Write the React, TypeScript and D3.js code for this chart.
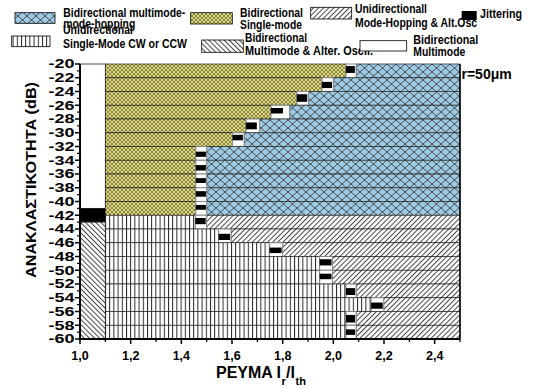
import React from "react";
import * as d3 from "d3";

// ---- data ----
const upperTop = [-20, -22, -24, -26, -28, -30, -32, -34, -36, -38, -40];
const yellowEnd = [2.05, 1.955, 1.856, 1.754, 1.655, 1.602, 1.457, 1.457, 1.457, 1.457, 1.457];
const upperBoxEnd = [2.09, 2.0, 1.902, 1.827, 1.709, 1.648, 1.5, 1.5, 1.5, 1.5, 1.5];
const upperBlackEnd = [2.085, 1.995, 1.897, 1.801, 1.698, 1.643, 1.497, 1.497, 1.497, 1.497, 1.497];
const upperBlackTop = [-20.3, -22.6, -24.4, -26.4, -28.5, -30.3, -32.75, -34.7, -36.6, -38.5, -40.5];
const upperBlackBottom = [-21.3, -23.5, -25.5, -27.2, -29.5, -31.1, -33.5, -35.5, -37.3, -39.3, -41.2];

const lowerTop = [-42, -44, -46, -48, -50, -52, -54, -56, -58];
const lineEnd = [1.455, 1.547, 1.748, 1.946, 1.946, 2.05, 2.149, 2.05, 2.05];
const lowerBoxEnd = [1.5, 1.596, 1.8, 1.997, 1.997, 2.09, 2.199, 2.09, 2.09];
const lowerBlackTop = [-42.4, -44.7, -46.7, -48.4, -50.5, -52.6, -54.7, -56.5, -58.6];
const lowerBlackBottom = [-43.3, -45.6, -47.5, -49.3, -51.3, -53.6, -55.6, -57.6, -59.4];

const rowHeight = 2;
const currentMin = 1.0;
const currentMax = 2.5;
const leftColEnd = 1.1;
const leftWhite = [-20, -41];
const leftJitter = [-41, -43];
const leftOsc = [-43, -60];

const yTickValues = [-20, -22, -24, -26, -28, -30, -32, -34, -36, -38, -40, -42, -44, -46, -48, -50, -52, -54, -56, -58, -60];
const yTickLabels = ["-20", "-22", "-24", "-26", "-28", "-30", "-32", "-34", "-36", "-38", "-40", "-42", "-44", "-46", "-48", "-50", "-52", "-54", "-56", "-58", "-60"];
const xTickValues = [1.0, 1.2, 1.4, 1.6, 1.8, 2.0, 2.2, 2.4];
const xTickLabels = ["1,0", "1,2", "1,4", "1,6", "1,8", "2,0", "2,2", "2,4"];
const xMinorValues = [1.1, 1.3, 1.5, 1.7, 1.9, 2.1, 2.3, 2.5];
const yMinorValues = [-21, -23, -25, -27, -29, -31, -33, -35, -37, -39, -41, -43, -45, -47, -49, -51, -53, -55, -57, -59];

const FONT = "'Liberation Sans', Arial, sans-serif";

export default function App() {
  const x = d3.scaleLinear().domain([currentMin, currentMax]).range([80, 460]);
  const y = d3.scaleLinear().domain([-20, -60]).range([64, 339]);

  const seg = (x0: number, x1: number, t: number, b: number, fill: string, key: string, stroke = "#222", sw = 0.7) => (
    <rect key={key} x={x(x0)} y={y(t)} width={x(x1) - x(x0)} height={y(b) - y(t)} fill={fill} stroke={stroke} strokeWidth={sw} />
  );

  const legendText = (s: string, lx: number, ly: number, len: number, key: string) => (
    <text key={key} x={lx} y={ly} fontSize={12} fontWeight="bold" fontFamily={FONT} textLength={len} lengthAdjust="spacingAndGlyphs">{s}</text>
  );

  return (
    <svg width={533} height={389} style={{ position: "absolute", left: 0, top: 0, background: "#fff" }}>
      <defs>
        <pattern id="blue" width={9} height={8} patternUnits="userSpaceOnUse">
          <rect width={9} height={8} fill="#9ecae3" />
          <path d="M0,0 L9,8 M9,0 L0,8" stroke="#1a1a1a" strokeWidth={0.7} />
        </pattern>
        <pattern id="yellow" width={4} height={4} patternUnits="userSpaceOnUse">
          <rect width={4} height={4} fill="#e0da74" />
          <path d="M0,0 L4,4 M4,0 L0,4" stroke="#333" strokeWidth={0.5} />
        </pattern>
        <pattern id="fwd" width={3.6} height={10} patternUnits="userSpaceOnUse" patternTransform="rotate(45)">
          <rect width={3.6} height={10} fill="#fff" />
          <line x1={0.5} y1={0} x2={0.5} y2={10} stroke="#111" strokeWidth={0.8} />
        </pattern>
        <pattern id="back" width={3.6} height={10} patternUnits="userSpaceOnUse" patternTransform="rotate(-45)">
          <rect width={3.6} height={10} fill="#fff" />
          <line x1={0.5} y1={0} x2={0.5} y2={10} stroke="#111" strokeWidth={0.8} />
        </pattern>
        <pattern id="vert" width={4.2} height={10} patternUnits="userSpaceOnUse">
          <rect width={4.2} height={10} fill="#fff" />
          <line x1={0.5} y1={0} x2={0.5} y2={10} stroke="#111" strokeWidth={0.9} />
        </pattern>
      </defs>

      {/* left column */}
      {seg(currentMin, leftColEnd, leftWhite[0], leftWhite[1], "#fff", "lw", "#222", 0.8)}
      {seg(currentMin, leftColEnd, leftJitter[0], leftJitter[1], "#000", "lj")}
      {seg(currentMin, leftColEnd, leftOsc[0], leftOsc[1], "url(#back)", "lo", "#222", 0.8)}

      {/* upper rows */}
      {upperTop.map((t, i) => (
        <g key={"u" + i}>
          {seg(leftColEnd, yellowEnd[i], t, t - rowHeight, "url(#yellow)", "y")}
          {seg(upperBoxEnd[i], currentMax, t, t - rowHeight, "url(#blue)", "b", "#333", 0.8)}
          {seg(yellowEnd[i], upperBoxEnd[i], t, t - rowHeight, "#fff", "w", "#888", 1)}
          {seg(yellowEnd[i], upperBlackEnd[i], upperBlackTop[i], upperBlackBottom[i], "#000", "k", "none", 0)}
        </g>
      ))}

      {/* lower rows */}
      {lowerTop.map((t, i) => (
        <g key={"l" + i}>
          {seg(leftColEnd, lineEnd[i], t, t - rowHeight, "url(#vert)", "v")}
          {seg(lowerBoxEnd[i], currentMax, t, t - rowHeight, "url(#fwd)", "f")}
          {seg(lineEnd[i], lowerBoxEnd[i], t, t - rowHeight, "#fff", "w", "#888", 1)}
          {seg(lineEnd[i], lowerBoxEnd[i] - 0.004, lowerBlackTop[i], lowerBlackBottom[i], "#000", "k", "none", 0)}
        </g>
      ))}

      {/* right border */}
      <line x1={x(currentMax)} y1={y(-20)} x2={x(currentMax)} y2={y(-60)} stroke="#000" strokeWidth={1.5} />

      {/* axes */}
      <line x1={x(currentMin)} y1={y(-20)} x2={x(currentMin)} y2={y(-60) + 1} stroke="#000" strokeWidth={2} />
      <line x1={x(currentMin) - 1} y1={y(-60)} x2={x(currentMax)} y2={y(-60)} stroke="#000" strokeWidth={2} />
      {yTickValues.map((v, i) => (
        <g key={"yt" + i}>
          <line x1={x(currentMin) - 5} x2={x(currentMin)} y1={y(v)} y2={y(v)} stroke="#000" strokeWidth={1.5} />
          <text x={74.5} y={y(v) + 4.3} textAnchor="end" fontSize={12} fontWeight="bold" fontFamily={FONT} textLength={26} lengthAdjust="spacingAndGlyphs">{yTickLabels[i]}</text>
        </g>
      ))}
      {yMinorValues.map((v, i) => (
        <line key={"ym" + i} x1={x(currentMin) - 3} x2={x(currentMin)} y1={y(v)} y2={y(v)} stroke="#000" strokeWidth={1.2} />
      ))}
      {xTickValues.map((v, i) => (
        <g key={"xt" + i}>
          <line x1={x(v)} x2={x(v)} y1={y(-60)} y2={y(-60) + 5} stroke="#000" strokeWidth={1.5} />
          <text x={x(v)} y={360} textAnchor="middle" fontSize={12.5} fontWeight="bold" fontFamily={FONT}>{xTickLabels[i]}</text>
        </g>
      ))}
      {xMinorValues.map((v, i) => (
        <line key={"xm" + i} x1={x(v)} x2={x(v)} y1={y(-60)} y2={y(-60) + 3} stroke="#000" strokeWidth={1.2} />
      ))}

      {/* axis titles */}
      <text transform="translate(36,180) rotate(-90)" textAnchor="middle" fontSize={15} fontWeight="bold" fontFamily={FONT} textLength={196} lengthAdjust="spacingAndGlyphs">ΑΝΑΚΛΑΣΤΙΚΟΤΗΤΑ (dB)</text>
      <text x={216} y={378} fontSize={16} fontWeight="bold" fontFamily={FONT}>PEYMA</text>
      <text x={276.5} y={378} fontSize={16} fontWeight="bold" fontFamily={FONT}>I</text>
      <text x={281.5} y={385} fontSize={11} fontWeight="bold" fontFamily={FONT}>r</text>
      <text x={286} y={378} fontSize={16} fontWeight="bold" fontFamily={FONT}>/I</text>
      <text x={295.5} y={385} fontSize={11} fontWeight="bold" fontFamily={FONT}>th</text>
      <text x={461.5} y={79} fontSize={14} fontWeight="bold" fontFamily={FONT}>r=50μm</text>

      {/* legend */}
      <rect x={15} y={12.7} width={40} height={10.6} fill="url(#blue)" stroke="#000" strokeWidth={0.8} />
      {legendText("Bidirectional multimode-", 63.3, 17.3, 122, "t1")}
      {legendText("mode-hopping", 63.3, 28, 72, "t2")}
      <rect x={190.7} y={12.7} width={41.6} height={11.3} fill="url(#yellow)" stroke="#000" strokeWidth={0.8} />
      {legendText("Bidirectional", 240, 16.7, 63, "t3")}
      {legendText("Single-mode", 240, 29, 62, "t4")}
      <rect x={310.7} y={7.3} width={41} height={11.7} fill="url(#fwd)" stroke="#000" strokeWidth={0.8} />
      {legendText("Unidirectionall", 355, 13.3, 72, "t5")}
      {legendText("Mode-Hopping & Alt.Osc", 355, 26.7, 122, "t6")}
      <rect x={461.7} y={11} width={15} height={9} fill="#000" />
      {legendText("Jittering", 480, 18.3, 42, "t7")}

      <rect x={11.7} y={36} width={38.3} height={10.7} fill="url(#vert)" stroke="#000" strokeWidth={0.8} />
      {legendText("Unidirectional", 63, 34.3, 70, "t8")}
      {legendText("Single-Mode CW or CCW", 63, 47.7, 124, "t9")}
      <rect x={201.7} y={40} width={41.6} height={12.3} fill="url(#back)" stroke="#000" strokeWidth={0.8} />
      {legendText("Bidirectional", 245, 41.7, 62, "t10")}
      {legendText("Multimode & Alter. Oscil.", 245, 55, 128, "t11")}
      <rect x={360} y={40.7} width={46.7} height={10.3} fill="#fff" stroke="#000" strokeWidth={0.8} />
      {legendText("Bidirectional", 413.3, 44, 65, "t12")}
      {legendText("Multimode", 413.3, 56, 52, "t13")}
    </svg>
  );
}
